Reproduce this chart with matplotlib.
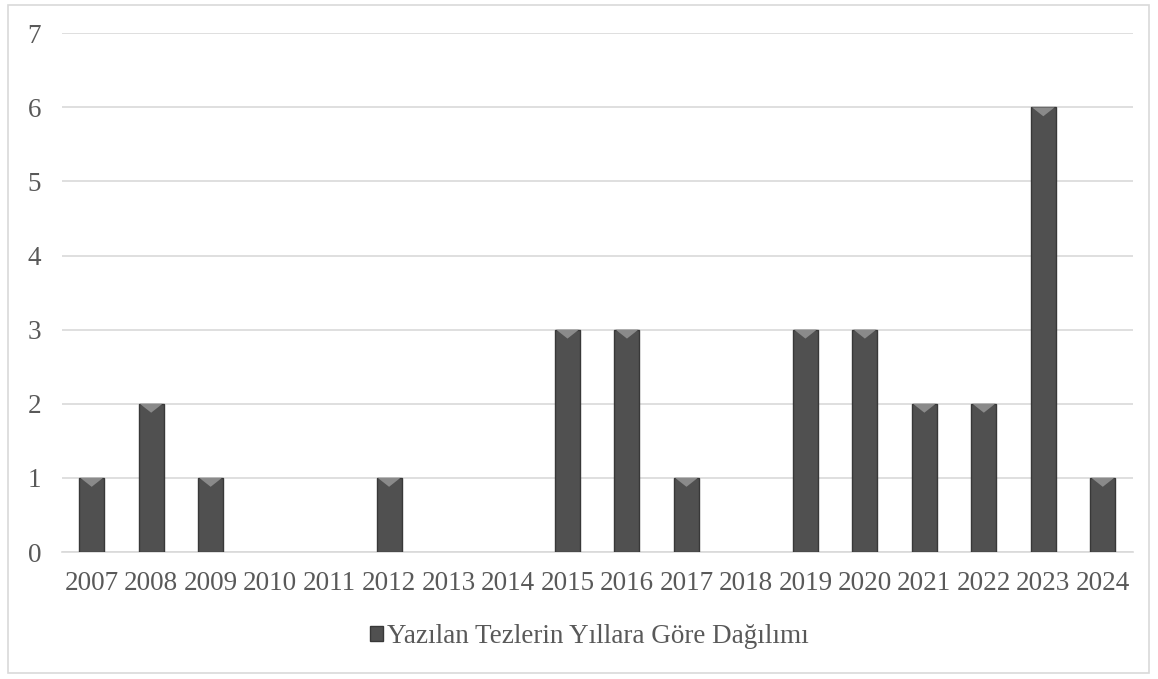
import numpy as np
import matplotlib.pyplot as plt
from matplotlib.patches import Rectangle, Polygon

years = ['2007', '2008', '2009', '2010', '2011', '2012', '2013', '2014', '2015',
         '2016', '2017', '2018', '2019', '2020', '2021', '2022', '2023', '2024']
counts = [1, 2, 1, 0, 0, 1, 0, 0, 3, 3, 1, 0, 3, 3, 2, 2, 6, 1]
series_name = 'Yazılan Tezlerin Yıllara Göre Dağılımı'

plt.rcParams['font.family'] = ['Liberation Serif', 'DejaVu Serif']

fig = plt.figure(figsize=(11.58, 6.79), dpi=100)
ax = fig.add_axes([0.0535, 0.187, 0.9245, 0.764])

x = np.arange(len(years))
w = 0.42
bars = ax.bar(x, counts, width=w, color='#505050', edgecolor='#383838',
              linewidth=1.0, zorder=3, label=series_name)

# little bevel highlight on top of each bar, hide the zero ones
for b, v in zip(bars, counts):
    if v == 0:
        b.set_linewidth(0)
        continue
    x0 = b.get_x()
    x1 = x0 + b.get_width()
    xm = x0 + b.get_width() / 2
    tri = Polygon([[x0 + 0.02, v], [x1 - 0.02, v], [xm, v - 0.12]],
                  closed=True, facecolor='#8a8a8a', edgecolor='none', zorder=4)
    ax.add_patch(tri)

ax.set_xlim(-0.5, len(years) - 0.5)
ax.set_ylim(0, 7)
ax.set_yticks(range(0, 8))
ax.set_xticks(x)
ax.set_xticklabels(years)
ax.grid(axis='y', color='#d9d9d9', linewidth=1.2, zorder=0)
ax.tick_params(axis='both', length=0, labelsize=19.5, labelcolor='#595959')
ax.tick_params(axis='y', pad=15)
ax.tick_params(axis='x', pad=14)
for s in ax.spines.values():
    s.set_visible(False)
ax.spines['bottom'].set_visible(True)
ax.spines['bottom'].set_color('#d9d9d9')
ax.spines['bottom'].set_linewidth(1.2)

leg = fig.legend(handles=[bars], labels=[series_name], loc='center',
                 bbox_to_anchor=(0.509, 0.062), frameon=False, fontsize=19.5,
                 handlelength=0.45, handleheight=0.45, handletextpad=0.15)
for t in leg.get_texts():
    t.set_color('#595959')

fig.patches.append(Rectangle((0.007, 0.009), 0.985, 0.983, transform=fig.transFigure,
                             fill=False, edgecolor='#d9d9d9', linewidth=1.2))

fig.savefig('out.png', dpi=100)
